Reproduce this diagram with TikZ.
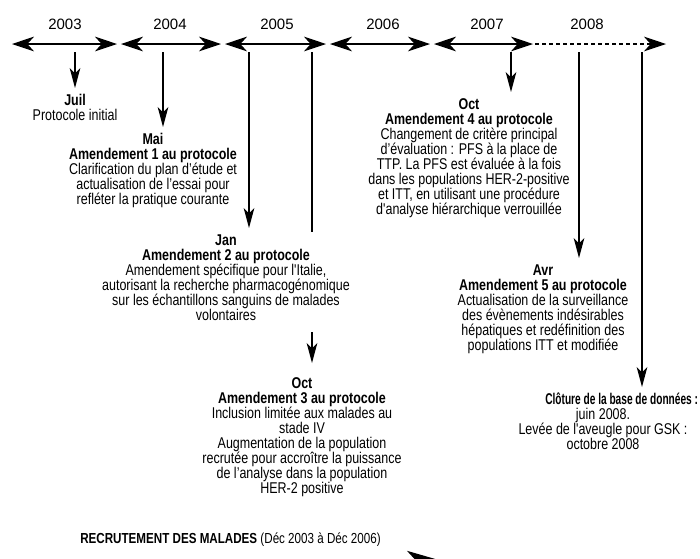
\documentclass[tikz,border=0pt]{standalone}
\usepackage{fontspec}
\newfontfamily\condfont{Liberation Sans}[FakeStretch=0.80]
\newfontfamily\narrowfont{Liberation Sans}[FakeStretch=0.65]
\newfontfamily\yearfont{Liberation Sans}
\usetikzlibrary{arrows.meta}

\tikzset{
  year/.style={font=\yearfont\fontsize{11.25pt}{13pt}\selectfont},
  event/.style={align=center, anchor=north, inner sep=0pt,
    font=\condfont\fontsize{11.7pt}{11.25pt}\selectfont},
  yearspan/.style={line width=0.8pt,
    {Stealth[length=16.5pt,width=11pt,inset=5pt]}-{Stealth[length=16.5pt,width=11pt,inset=5pt]},
    shorten <=1.5pt, shorten >=1.5pt},
  dropline/.style={line width=0.8pt, -{Stealth[length=15pt,width=8pt,inset=4pt]},
    shorten >=4.5pt},
}

\begin{document}
\begin{tikzpicture}[x=0.75pt,y=-0.75pt]
  \useasboundingbox (0,0) rectangle (700,558);
  \clip (0,0) rectangle (700,558);

  % timeline
  \coordinate (b0) at (10,44);
  \coordinate (b1) at (119,44);
  \coordinate (b2) at (223,44);
  \coordinate (b3) at (328,44);
  \coordinate (b4) at (432,44);
  \coordinate (b5) at (535,44);
  \coordinate (b6) at (668,44);
  \draw[yearspan] (b0) -- (b1);
  \draw[yearspan] (b1) -- (b2);
  \draw[yearspan] (b2) -- (b3);
  \draw[yearspan] (b3) -- (b4);
  \draw[yearspan] (b4) -- (b5);
  \draw[line width=0.8pt, dash pattern=on 3pt off 2.25pt,
    -{Stealth[length=16.5pt,width=11pt,inset=5pt]}, shorten >=1.5pt] (b5) -- (b6);

  \node[year] (y2003) at (65,24) {2003};
  \node[year] (y2004) at (170,24) {2004};
  \node[year] (y2005) at (277,24) {2005};
  \node[year] (y2006) at (383,24) {2006};
  \node[year] (y2007) at (487,24) {2007};
  \node[year] (y2008) at (587,24) {2008};

  % amendements
  \node[event] (juil) at (75,94) {\textbf{Juil}\\Protocole initial};
  \node[event] (mai) at (153,133) {\textbf{Mai}\\\textbf{Amendement 1 au protocole}\\
    Clarification du plan d’étude et\\actualisation de l’essai pour\\
    refléter la pratique courante};
  \node[event] (jan) at (226,234) {\textbf{Jan}\\\textbf{Amendement 2 au protocole}\\
    Amendement spécifique pour l'Italie,\\autorisant la recherche pharmacogénomique\\
    sur les échantillons sanguins de malades\\volontaires};
  \node[event] (oct05) at (302,377) {\textbf{Oct}\\\textbf{Amendement 3 au protocole}\\
    Inclusion limitée aux malades au\\stade IV\\Augmentation de la population\\
    recrutée pour accroître la puissance\\de l’analyse dans la population\\
    HER-2 positive};
  \node[event] (oct07) at (469,98) {\textbf{Oct}\\\textbf{Amendement 4 au protocole}\\
    Changement de critère principal\\d’évaluation : PFS à la place de\\
    TTP. La PFS est évaluée à la fois\\dans les populations HER-2-positive\\
    et ITT, en utilisant une procédure\\d'analyse hiérarchique verrouillée};
  \node[event] (avr) at (543,264) {\textbf{Avr}\\\textbf{Amendement 5 au protocole}\\
    Actualisation de la surveillance\\des évènements indésirables\\
    hépatiques et redéfinition des\\populations ITT et modifiée};
  \node[event] (clot) at (603,393) {\hspace*{28pt}{\narrowfont\bfseries Clôture de la base de données :}\\
    juin 2008.\\Levée de l'aveugle pour GSK :\\octobre 2008};

  \coordinate (d1) at (75,52);
  \coordinate (d2) at (163,52);
  \coordinate (d3) at (249,52);
  \coordinate (d5) at (511,52);
  \coordinate (d6) at (579,52);
  \coordinate (d7) at (642,52);
  \draw[dropline] (d1) -- (d1 |- juil.north);
  \draw[dropline] (d2) -- (d2 |- mai.north);
  \draw[dropline] (d3) -- (d3 |- jan.north);
  \draw[dropline] (d5) -- (d5 |- oct07.north);
  \draw[dropline] (d6) -- (d6 |- avr.north);
  \draw[dropline] (d7) -- (d7 |- clot.north);

  % ligne interrompue par le texte de Jan
  \coordinate (o0) at (312,52);
  \coordinate (o1) at (312,232);
  \coordinate (o2) at (312,332);
  \coordinate (o3) at (312,363);
  \draw[line width=0.8pt] (o0) -- (o1);
  \draw[dropline, shorten >=0pt] (o2) -- (o3);

  % recrutement
  \node[event, anchor=west, font=\condfont\fontsize{10.9pt}{11.25pt}\selectfont] (recrut) at (80,540)
    {\textbf{RECRUTEMENT DES MALADES} (Déc 2003 à Déc 2006)};
  \coordinate (r0) at (110,559.5);
  \coordinate (r1) at (437,559.5);
  \draw[line width=0.8pt, -{Stealth[length=22.5pt,width=13pt,inset=6pt]}] (r0) -- (r1);
\end{tikzpicture}
\end{document}
